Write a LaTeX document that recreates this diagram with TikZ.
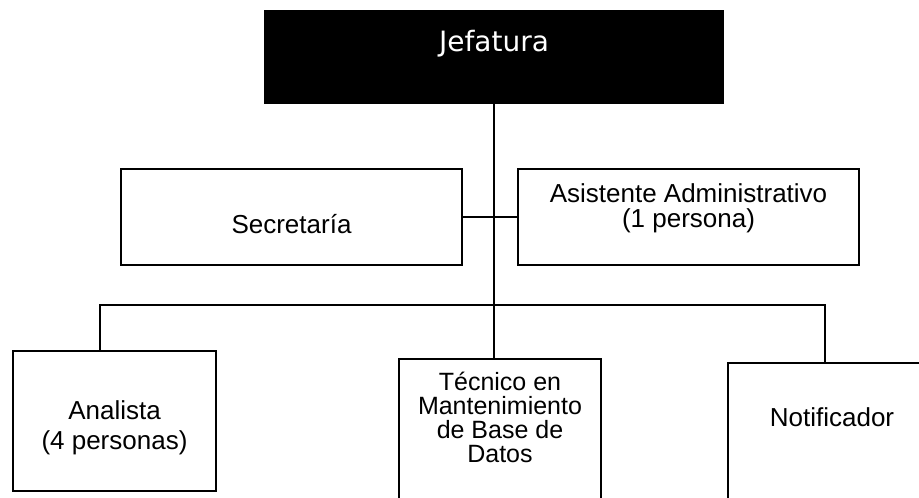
\documentclass[tikz,border=0pt]{standalone}
\usepackage{fontspec}
\setmainfont{Liberation Sans}
\newfontfamily\jeffont{DejaVu Sans}
\begin{document}
\begin{tikzpicture}[x=1pt,y=-1pt,
  box/.style={draw=black, line width=2pt, inner sep=0pt, anchor=north west, fill=white},
  txt/.style={align=center, inner sep=0pt, text=black},
  conn/.style={draw=black, line width=2pt}]
\clip (0,0) rectangle (919,498);
\fill[white] (0,0) rectangle (919,498);
% Jefatura
\node[box, fill=black, minimum width=458pt, minimum height=92pt,
  label={[txt, text=white, font=\jeffont\fontsize{28}{30}\selectfont, yshift=13pt]center:Jefatura}] (jef) at (264,10) {};
% second level
\node[box, minimum width=341pt, minimum height=96pt,
  label={[txt, font=\fontsize{26}{24}\selectfont, yshift=-7pt]center:Secretaría}] (sec) at (120,168) {};
\node[box, minimum width=341pt, minimum height=96pt,
  label={[txt, font=\fontsize{26}{25}\selectfont, yshift=8.5pt]center:Asistente Administrativo\\(1 persona)}] (asi) at (517,168) {};
% third level
\node[box, minimum width=203pt, minimum height=140pt,
  label={[txt, font=\fontsize{26}{30}\selectfont, yshift=-6.5pt]center:Analista\\(4 personas)}] (ana) at (12,350) {};
\node[box, minimum width=202pt, minimum height=162pt,
  label={[txt, font=\fontsize{25}{24}\selectfont, yshift=23pt]center:Técnico en\\Mantenimiento\\de Base de\\Datos}] (tec) at (398,358) {};
\node[box, minimum width=208pt, minimum height=158pt,
  label={[txt, font=\fontsize{26}{24}\selectfont, yshift=25pt]center:Notificador}] (not) at (727,362) {};
% connectors
\coordinate (busL) at (100,305);
\coordinate (busR) at (825,305);
\draw[conn] (jef.south) -- (jef.south |- tec.north);
\draw[conn] (sec.east) -- (asi.west);
\draw[conn] (busL |- ana.north) -- (busL) -- (busR) -- (busR |- not.north);
\end{tikzpicture}
\end{document}
